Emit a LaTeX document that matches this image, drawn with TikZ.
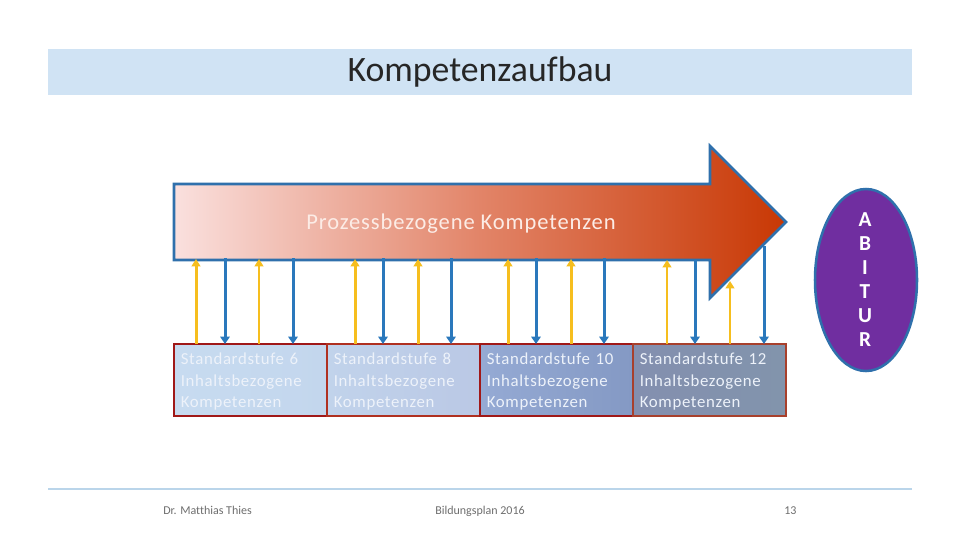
\documentclass[tikz,border=0pt]{standalone}
\usepackage{fontspec}
\setmainfont{Carlito}[Ligatures=NoCommon]
\newfontfamily\spacedfont{Carlito}[LetterSpace=4,Ligatures=NoCommon]
\usetikzlibrary{arrows.meta}
\definecolor{band}{HTML}{D0E3F4}
\definecolor{rulec}{HTML}{BAD5EA}
\definecolor{arrowline}{HTML}{2F70AC}
\definecolor{yel}{HTML}{F6BE1E}
\definecolor{blu}{HTML}{2A78BC}
\definecolor{foot}{HTML}{6E6E6E}
\definecolor{boxtxt}{HTML}{EDF2FA}
\newcommand{\firstline}{\rule{0pt}{11.5pt}}
\tikzset{
  x=0.75pt,y=-0.75pt,
  stufe/.style={minimum width=114.75pt,minimum height=54pt,inner sep=0pt,outer sep=0pt,line width=1.6pt,anchor=north west,
    align=left,text=boxtxt,font=\spacedfont\fontsize{12.6}{16.1}\selectfont,text width=104.5pt},
  up/.style={draw=yel,line width=2.25pt,-{Triangle[length=5.5pt,width=6.5pt]}},
  upthin/.style={up,line width=1.9pt},
  down/.style={draw=blu,line width=2.25pt,-{Triangle[length=5.5pt,width=7pt]}},
  foottxt/.style={text=foot,font=\fontsize{9}{10}\selectfont,inner sep=0pt,anchor=base west}
}
\begin{document}
\begin{tikzpicture}
\useasboundingbox (0,0) rectangle (960,540);
\fill[white] (0,0) rectangle (960,540);
\node[fill=band,minimum width=648pt,minimum height=34.5pt,inner sep=0pt,outer sep=0pt,anchor=north west] (band) at (48,49) {};
\node[inner sep=0pt,font=\fontsize{26.8}{30}\selectfont,text=black!85] (title) at (480,72) {Kompetenzaufbau};

% big arrow
\shade[left color={rgb,255:red,250;green,224;blue,222},
  right color={rgb,255:red,200;green,56;blue,4},
  middle color={rgb,255:red,226;green,132;blue,104}]
  (174,184) -- (710,184) -- (710,146) -- (786,222) -- (710,298) -- (710,260) -- (174,260) -- cycle;
\draw[arrowline,line width=1.9pt,line join=miter]
  (174,184) -- (710,184) -- (710,146) -- (786,222) -- (710,298) -- (710,260) -- (174,260) -- cycle;
\node[inner sep=0pt,text={rgb,255:red,252;green,236;blue,230},font=\spacedfont\fontsize{16.9}{20}\selectfont] (proz) at (461,224) {Prozessbezogene Kompetenzen};

% boxes
\node[stufe,draw={rgb,255:red,160;green,24;blue,24},left color={rgb,255:red,199;green,219;blue,240},right color={rgb,255:red,195;green,214;blue,237}] (s6) at (174,344) {\firstline Standardstufe 6\\Inhaltsbezogene\\Kompetenzen};
\node[stufe,draw={rgb,255:red,176;green,48;blue,32},left color={rgb,255:red,193;green,211;blue,235},right color={rgb,255:red,186;green,200;blue,229}] (s8) at (327,344) {\firstline Standardstufe 8\\Inhaltsbezogene\\Kompetenzen};
\node[stufe,draw={rgb,255:red,160;green,24;blue,24},left color={rgb,255:red,149;green,170;blue,212},right color={rgb,255:red,132;green,153;blue,196}] (s10) at (480,344) {\firstline Standardstufe 10\\Inhaltsbezogene\\Kompetenzen};
\node[stufe,draw={rgb,255:red,168;green,64;blue,44},left color={rgb,255:red,131;green,143;blue,175},right color={rgb,255:red,130;green,148;blue,172}] (s12) at (633,344) {\firstline Standardstufe 12\\Inhaltsbezogene\\Kompetenzen};

% connector end points
\foreach \n/\x/\y in {a/196/259,b/259/259,c/355/259,d/418/259,e/508/259,f/571/259,g/667/260,h/730/281}{
  \coordinate (\n t) at (\x,\y);
  \coordinate (\n b) at (\x,344);
}
\foreach \n/\x/\y in {p/225/258,q/293/258,r/383/258,s/451/258,t/536/258,u/604/258,v/695/260,w/764/246}{
  \coordinate (\n t) at (\x,\y);
  \coordinate (\n b) at (\x,344);
}
\foreach \n in {a,c,d,e,f}{\draw[up] (\n b) -- (\n t);}
\foreach \n in {b,g,h}{\draw[upthin] (\n b) -- (\n t);}
\foreach \n in {p,q,r,s,t,u,v,w}{\draw[down] (\n t) -- (\n b);}

% ellipse
\draw[draw=arrowline,fill={rgb,255:red,112;green,46;blue,160},line width=1.9pt] (866,280) ellipse [x radius=51,y radius=91];
\node[inner sep=0pt,align=center,text=white,font=\fontsize{16}{18}\selectfont\bfseries] (abitur) at (865,280) {A\\B\\I\\T\\U\\R};

% footer
\draw[rulec,line width=1.4pt] (band.south west |- 0,489) coordinate (fl) -- (band.south east |- 0,489) coordinate (fr);
\node[foottxt] (f1) at (163,514) {Dr. Matthias Thies};
\node[foottxt] (f2) at (435,514) {Bildungsplan 2016};
\node[foottxt] (f3) at (784,514) {13};
\end{tikzpicture}
\end{document}
